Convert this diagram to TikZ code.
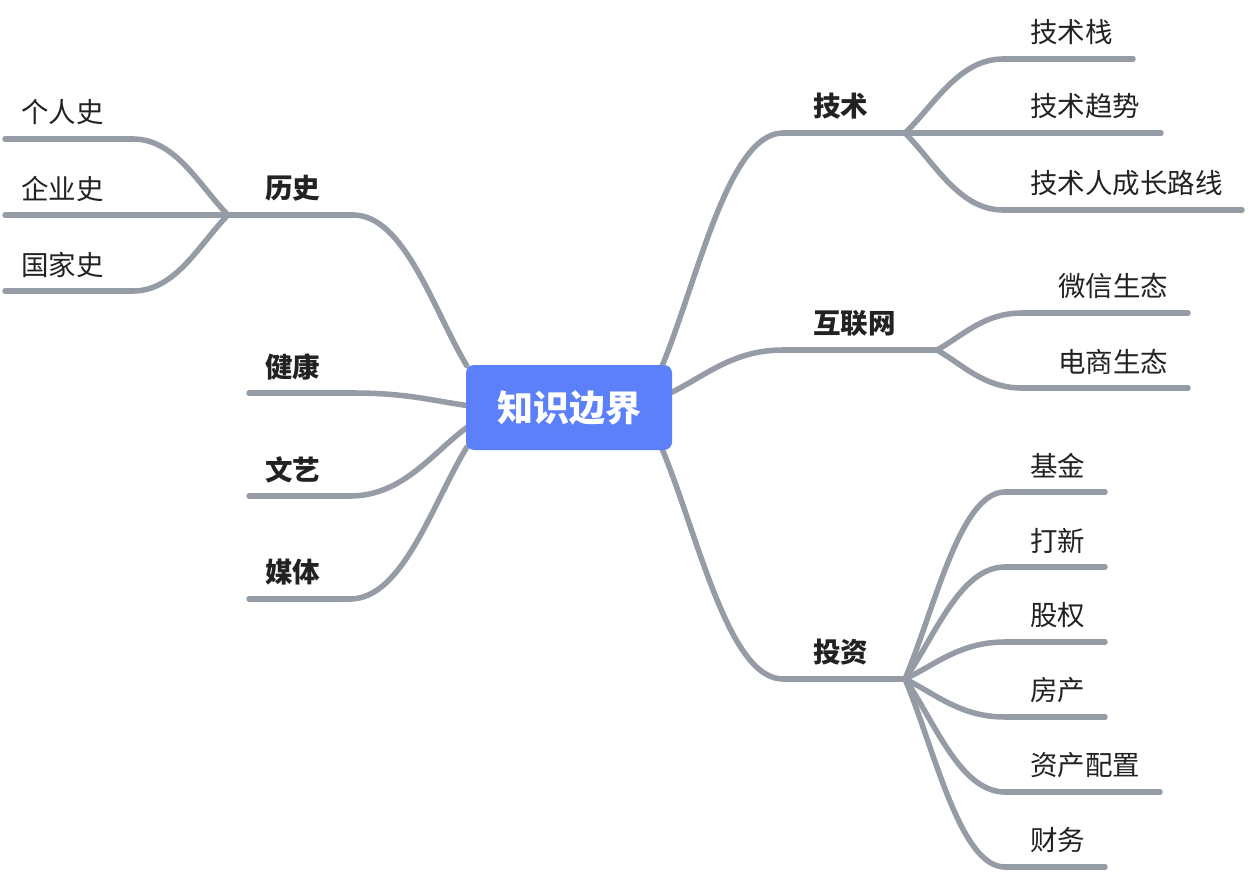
\documentclass[tikz,border=0pt]{standalone}
\usepackage{fontspec}
\newfontfamily\cjk{Noto Sans CJK SC}
\usetikzlibrary{calc,backgrounds}
\definecolor{linegray}{RGB}{150,156,166}
\definecolor{rootblue}{RGB}{91,128,250}
\definecolor{txtdark}{RGB}{34,34,34}
\newcommand\mmlink[2]{\draw[branch] let \p1=(#1), \p2=(#2) in (\p1) .. controls ({\x1+0.3*((\x2)-(\x1))},{\y1+0.38*((\y2)-(\y1))}) and ({\x1+0.55*((\x2)-(\x1))},\y2) .. (\p2);}
\begin{document}
\begin{tikzpicture}[x=1pt,y=-1pt,
  branch/.style={draw=linegray,line width=5.5pt,line cap=round},
  sublabel/.style={anchor=west,inner sep=0pt,text=txtdark,font=\cjk\fontsize{27.5}{31}\selectfont},
  mainlabel/.style={anchor=west,inner sep=0pt,text=txtdark,font=\cjk\bfseries\fontsize{27.5}{31}\selectfont},
  rootnode/.style={fill=rootblue,rounded corners=8pt,minimum width=206pt,minimum height=85pt,inner sep=0pt,text=white,font=\cjk\bfseries\fontsize{36}{40}\selectfont}]
\useasboundingbox (0,0) rectangle (1248,872);

% root
\node[rootnode] (root) at (569,407.5) {知识边界};

% anchor points on root
\coordinate (r-tech) at ($(root.north east)+(-10,1)$);
\coordinate (r-net) at ($(root.east)+(-1,-15)$);
\coordinate (r-inv) at ($(root.south east)+(-10,-1)$);
\coordinate (r-hist) at ($(root.north west)+(1,1)$);
\coordinate (r-health) at ($(root.west)+(1,-2)$);
\coordinate (r-art) at ($(root.west)+(1,20)$);
\coordinate (r-media) at ($(root.south west)+(1,-3)$);

% main branch coordinates
\coordinate (tech-a) at (783,133); \coordinate (tech-b) at (905,133);
\coordinate (net-a) at (783,350); \coordinate (net-b) at (937,350);
\coordinate (inv-a) at (783,679); \coordinate (inv-b) at (905,679);
\coordinate (hist-a) at (353,215); \coordinate (hist-b) at (228,215);
\coordinate (health-a) at (355,393); \coordinate (health-b) at (249,393);
\coordinate (art-a) at (350,496); \coordinate (art-b) at (249,496);
\coordinate (media-a) at (350,599); \coordinate (media-b) at (249,599);

% child coordinates
\coordinate (t1-l) at (1003,59);  \coordinate (t1-r) at (1133,59);
\coordinate (t2-l) at (1003,133); \coordinate (t2-r) at (1161,133);
\coordinate (t3-l) at (1003,210); \coordinate (t3-r) at (1242,210);
\coordinate (n1-l) at (1022,313); \coordinate (n1-r) at (1188,313);
\coordinate (n2-l) at (1022,388); \coordinate (n2-r) at (1188,388);
\coordinate (i1-l) at (1005,492); \coordinate (i1-r) at (1105,492);
\coordinate (i2-l) at (1005,567); \coordinate (i2-r) at (1105,567);
\coordinate (i3-l) at (1005,642); \coordinate (i3-r) at (1105,642);
\coordinate (i4-l) at (1005,717); \coordinate (i4-r) at (1105,717);
\coordinate (i5-l) at (1005,792); \coordinate (i5-r) at (1160,792);
\coordinate (i6-l) at (1005,867); \coordinate (i6-r) at (1105,867);
\coordinate (h1-l) at (133,139); \coordinate (h1-r) at (5,139);
\coordinate (h2-l) at (133,215); \coordinate (h2-r) at (5,215);
\coordinate (h3-l) at (133,291); \coordinate (h3-r) at (5,291);

% labels
\node[mainlabel] (tech) at (813,106.5) {技术};
\node[mainlabel] (net) at (813,323.5) {互联网};
\node[mainlabel] (inv) at (813,652.5) {投资};
\node[mainlabel] (hist) at (265,188.5) {历史};
\node[mainlabel] (health) at (265,366.5) {健康};
\node[mainlabel] (art) at (265,469.5) {文艺};
\node[mainlabel] (media) at (265,572.5) {媒体};

\node[sublabel] (t1) at (1030,32.5) {技术栈};
\node[sublabel] (t2) at (1030,106.5) {技术趋势};
\node[sublabel] (t3) at (1030,183.5) {技术人成长路线};
\node[sublabel] (n1) at (1058,286.5) {微信生态};
\node[sublabel] (n2) at (1058,361.5) {电商生态};
\node[sublabel] (i1) at (1030,465.5) {基金};
\node[sublabel] (i2) at (1030,540.5) {打新};
\node[sublabel] (i3) at (1030,615.5) {股权};
\node[sublabel] (i4) at (1030,690.5) {房产};
\node[sublabel] (i5) at (1030,765.5) {资产配置};
\node[sublabel] (i6) at (1030,840.5) {财务};
\node[sublabel] (h1) at (21,112.5) {个人史};
\node[sublabel] (h2) at (21,188.5) {企业史};
\node[sublabel] (h3) at (21,264.5) {国家史};

\begin{pgfonlayer}{background}
\fill[white] (0,0) rectangle (1248,872);
% root to main branches
\mmlink{r-tech}{tech-a} \draw[branch] (tech-a) -- (tech-b);
\mmlink{r-net}{net-a} \draw[branch] (net-a) -- (net-b);
\mmlink{r-inv}{inv-a} \draw[branch] (inv-a) -- (inv-b);
\mmlink{r-hist}{hist-a} \draw[branch] (hist-a) -- (hist-b);
\mmlink{r-health}{health-a} \draw[branch] (health-a) -- (health-b);
\mmlink{r-art}{art-a} \draw[branch] (art-a) -- (art-b);
\mmlink{r-media}{media-a} \draw[branch] (media-a) -- (media-b);
% tech children
\mmlink{tech-b}{t1-l} \draw[branch] (t1-l) -- (t1-r);
\draw[branch] (tech-b) -- (t2-r);
\mmlink{tech-b}{t3-l} \draw[branch] (t3-l) -- (t3-r);
% net children
\mmlink{net-b}{n1-l} \draw[branch] (n1-l) -- (n1-r);
\mmlink{net-b}{n2-l} \draw[branch] (n2-l) -- (n2-r);
% inv children
\mmlink{inv-b}{i1-l} \draw[branch] (i1-l) -- (i1-r);
\mmlink{inv-b}{i2-l} \draw[branch] (i2-l) -- (i2-r);
\mmlink{inv-b}{i3-l} \draw[branch] (i3-l) -- (i3-r);
\mmlink{inv-b}{i4-l} \draw[branch] (i4-l) -- (i4-r);
\mmlink{inv-b}{i5-l} \draw[branch] (i5-l) -- (i5-r);
\mmlink{inv-b}{i6-l} \draw[branch] (i6-l) -- (i6-r);
% hist children
\mmlink{hist-b}{h1-l} \draw[branch] (h1-l) -- (h1-r);
\draw[branch] (hist-b) -- (h2-r);
\mmlink{hist-b}{h3-l} \draw[branch] (h3-l) -- (h3-r);
\end{pgfonlayer}
\end{tikzpicture}
\end{document}
